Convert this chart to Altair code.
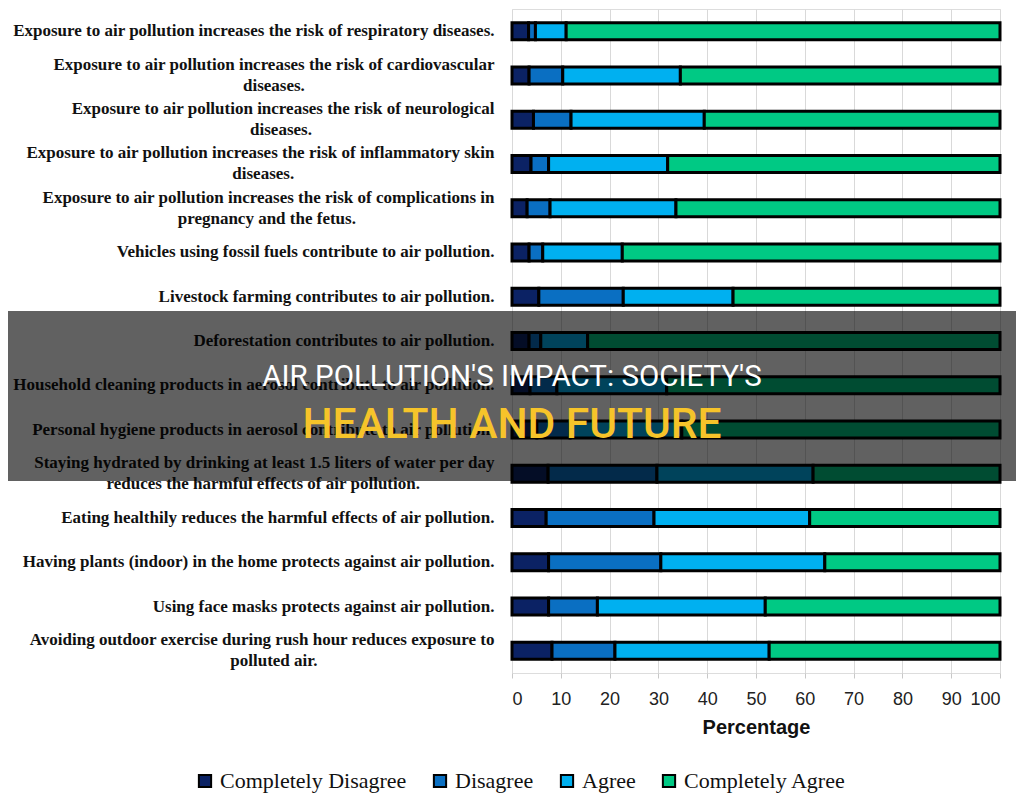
import altair as alt
import pandas as pd

statements = [
    "Exposure to air pollution increases the risk of respiratory diseases.",
    "Exposure to air pollution increases the risk of cardiovascular|diseases.",
    "Exposure to air pollution increases the risk of neurological|diseases.",
    "Exposure to air pollution increases the risk of inflammatory skin|diseases.",
    "Exposure to air pollution increases the risk of complications in|pregnancy and the fetus.",
    "Vehicles using fossil fuels contribute to air pollution.",
    "Livestock farming contributes to air pollution.",
    "Deforestation contributes to air pollution.",
    "Household cleaning products in aerosol contribute to air pollution.",
    "Personal hygiene products in aerosol contribute to air pollution.",
    "Staying hydrated by drinking at least 1.5 liters of water per day|reduces the harmful effects of air pollution.",
    "Eating healthily reduces the harmful effects of air pollution.",
    "Having plants (indoor) in the home protects against air pollution.",
    "Using face masks protects against air pollution.",
    "Avoiding outdoor exercise during rush hour reduces exposure to|polluted air.",
]

levels = ["Completely Disagree", "Disagree", "Agree", "Completely Agree"]
level_colors = ["#0b2264", "#0a6fc2", "#00b0f0", "#00c984"]

completely_disagree = [3.4, 3.5, 4.4, 3.9, 3.1, 3.5, 5.5, 3.5, 3.7, 5.1, 7.4, 7.0, 7.5, 7.5, 8.2]
disagree = [1.4, 6.9, 7.7, 3.6, 4.7, 2.8, 17.3, 2.4, 5.5, 6.8, 22.3, 22.1, 23.0, 10.0, 12.9]
agree = [6.3, 24.1, 27.3, 24.4, 25.8, 16.3, 22.5, 9.6, 22.5, 22.9, 32.0, 31.9, 33.6, 34.4, 31.6]
completely_agree = [88.9, 65.5, 60.6, 68.1, 66.4, 77.4, 54.7, 84.5, 68.3, 65.2, 38.3, 39.0, 35.9, 48.1, 47.3]

banner_line1 = ["AIR POLLUTION'S IMPACT: SOCIETY'S"]
banner_line2 = ["HEALTH AND FUTURE"]

rows = []
series = [completely_disagree, disagree, agree, completely_agree]
for i, s in enumerate(statements):
    for k, lev in enumerate(levels):
        rows.append({"statement": s, "level": lev, "order": k, "value": series[k][i]})
df = pd.DataFrame(rows)
wrapped = pd.DataFrame({"statement": [s for s in statements if "|" in s]})

LABEL_FONT = "Liberation Serif"
LABEL_SIZE = 17
PLOT_W = 488

y_enc = alt.Y("statement:N", sort=statements, title=None,
              axis=alt.Axis(labelExpr="split(datum.label, '|')[0]", labelFont=LABEL_FONT,
                            labelFontWeight="bold", labelFontSize=LABEL_SIZE, labelColor="#111",
                            labelLimit=0, labelPadding=18,
                            labelOffset={"condition": {"test": "indexof(datum.value, '|') >= 0", "value": -10.5},
                                         "value": 0},
                            domain=False, ticks=False, grid=False))
x_scale = alt.Scale(domain=[0, 100], nice=False)

bars = alt.Chart(df).mark_bar(size=17, stroke="black", strokeWidth=3).encode(
    y=y_enc,
    x=alt.X("value:Q", stack="zero", scale=x_scale, title="Percentage",
            axis=alt.Axis(values=list(range(0, 101, 10)), grid=True, gridColor="#d9d9d9",
                          gridWidth=1, domain=False, tickColor="#c8c8c8", tickSize=5,
                          labelFont="Liberation Sans", labelFontSize=18, labelColor="#222",
                          labelPadding=12, titleFont="Liberation Sans", titleFontSize=20,
                          titleFontWeight="bold", titleColor="#111", titlePadding=9)),
    color=alt.Color("level:N", sort=levels, scale=alt.Scale(domain=levels, range=level_colors),
                    legend=alt.Legend(title=None, orient="none", legendX=-318, legendY=761,
                                      direction="horizontal", symbolType="square",
                                      symbolSize=150, symbolStrokeColor="black",
                                      symbolStrokeWidth=2, symbolOpacity=1,
                                      labelFont="Liberation Serif", labelFontSize=22,
                                      labelColor="#111", columnPadding=22, labelOffset=4,
                                      labelLimit=0)),
    order=alt.Order("order:Q"),
)

# second lines of wrapped labels, centred under the first line
second_lines = alt.Chart(wrapped).transform_calculate(
    line1="split(datum.statement, '|')[0]",
    line2="split(datum.statement, '|')[1]",
).transform_calculate(
    xpos="-(18 + length(datum.line1) * 7.1 / 2) * 100 / %d" % PLOT_W
).mark_text(font=LABEL_FONT, fontWeight="bold", fontSize=LABEL_SIZE, color="#111",
            align="center", baseline="middle", dy=10.5).encode(
    y=y_enc,
    x=alt.X("xpos:Q", scale=x_scale),
    text="line2:N",
)

banner = alt.Chart(pd.DataFrame({"t": banner_line1})).mark_rect(color="black", opacity=0.62).encode(
    x=alt.value(-504), x2=alt.value(504), y=alt.value(302), y2=alt.value(472)
)
t1 = alt.Chart(pd.DataFrame({"t": banner_line1})).mark_text(
    font="Roboto", fontSize=29.5, color="white", align="center", baseline="middle"
).encode(text="t:N", x=alt.value(0), y=alt.value(368))
t2 = alt.Chart(pd.DataFrame({"t": banner_line2})).mark_text(
    font="Roboto", fontSize=42.5, fontWeight=500, color="#f6c42a", align="center", baseline="middle"
).encode(text="t:N", x=alt.value(0), y=alt.value(416))

chart = alt.layer(bars, second_lines, banner, t1, t2).properties(
    width=PLOT_W, height=664,
    autosize=alt.AutoSizeParams(type="none"),
    padding={"left": 504, "top": 1, "right": 16, "bottom": 125},
).configure_view(stroke=None).configure(background="white")

chart.save("out.html", embed_options={"renderer": "svg", "actions": False})
